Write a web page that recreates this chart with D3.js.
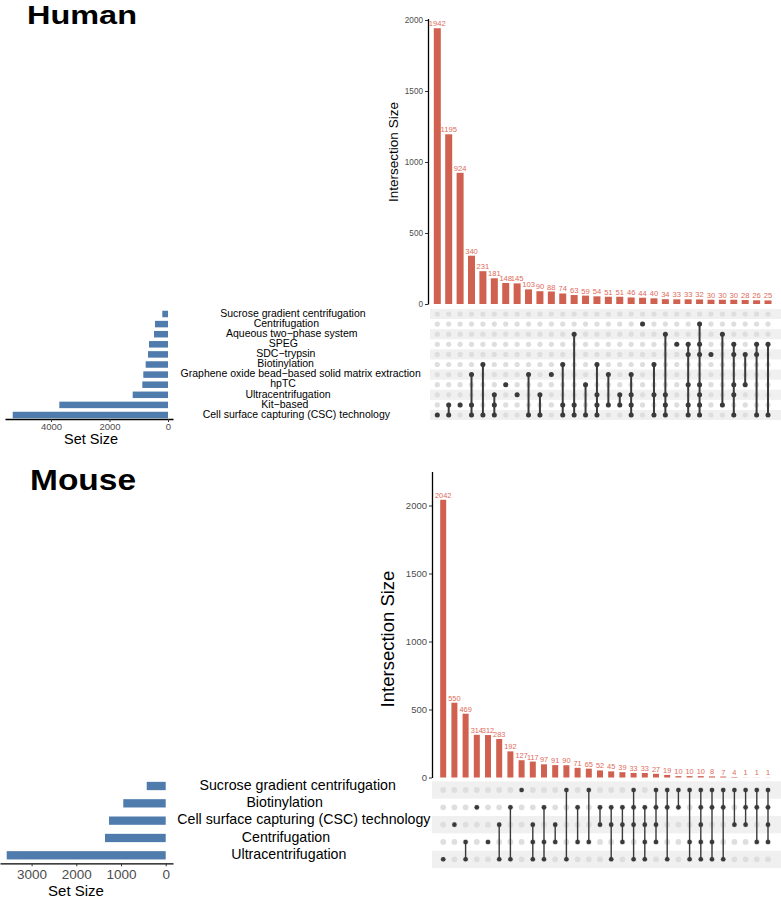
<!DOCTYPE html>
<html><head><meta charset="utf-8">
<script src="https://cdn.jsdelivr.net/npm/d3@7"></script>
<style>
body{margin:0;background:#fff}
svg{display:block;font-family:"Liberation Sans",Arial,Helvetica,sans-serif}
</style></head>
<body><svg id="chart" width="781" height="907"></svg>
<script>
// ---------------- DATA ----------------
const humanSets = ["Sucrose gradient centrifugation","Centrifugation","Aqueous two\u2212phase system","SPEG","SDC\u2212trypsin","Biotinylation","Graphene oxide bead\u2212based solid matrix extraction","hpTC","Ultracentrifugation","Kit\u2212based","Cell surface capturing (CSC) technology"];
const humanSetSizes = [195,444,479,650,684,763,844,878,1207,3716,5310];
const humanCounts = [1942,1195,924,340,231,181,148,145,103,90,88,74,63,59,54,51,51,46,44,40,34,33,33,32,30,30,30,28,26,25];
const humanCombos = [[10],[9,10],[9],[6,9,10],[5,10],[8,9,10],[7],[8],[6,10],[8,10],[6],[5,9,10],[2,9,10],[7,10],[5,8,9,10],[6,9],[8,9],[6,8,9,10],[1],[5,8,10],[2,8,9,10],[3],[3,4,7,9,10],[1,3,4,7,8,9,10],[4],[2,9],[3,4,7,8,10],[4,7],[3,4,10],[3,10]];
const humanIntTicks = [0,500,1000,1500,2000];
const humanSetTicks = [0,2000,4000];

const mouseSets = ["Sucrose gradient centrifugation","Biotinylation","Cell surface capturing (CSC) technology","Centrifugation","Ultracentrifugation"];
const mouseSetSizes = [425,949,1268,1358,3557];
const mouseCounts = [2042,550,469,314,312,283,192,127,117,97,91,90,71,65,52,45,39,33,33,27,19,10,10,10,8,7,4,1,1,1];
const mouseCombos = [[4],[2],[3,4],[1],[3],[2,4],[1,4],[0],[2,3,4],[1,3,4],[2,3],[0,4],[1,3],[0,3],[1,2],[1,2,4],[1,2,3],[0,1,2,4],[1,2,3,4],[0,1,2,3],[0,1,4],[0,1],[0,3,4],[0,1,2,3,4],[0,1,3,4],[0,1,4],[0,2],[0,1,2],[0,1,3],[0,1,2,3]];
const mouseIntTicks = [0,500,1000,1500,2000];
const mouseSetTicks = [0,1000,2000,3000];

// ---------------- STYLE / LAYOUT ----------------
const COLORS = {bar:"#d0604f", barLabel:"#e06a5a", setBar:"#4f7cac", dotOff:"#dedede", dotOn:"#3a3a3a", stripe:"#f0f0f0", tick:"#4d4d4d"};
const fmt = d3.format("d");
const svg = d3.select("#chart");

function drawUpset(cfg){
  const g = svg.append("g");
  const n = cfg.counts.length;
  const colX = d3.scalePoint().domain(d3.range(n)).range([cfg.colFirst, cfg.colLast]);
  const rowY = d3.scalePoint().domain(d3.range(cfg.sets.length)).range([cfg.rowFirst, cfg.rowLast]);
  const rowStep = (cfg.rowLast - cfg.rowFirst)/(cfg.sets.length-1);
  const y = d3.scaleLinear().domain([0, cfg.yMax]).range([cfg.y0, cfg.yTop]);

  // title
  g.append("text").attr("x", cfg.titleX).attr("y", cfg.titleY)
    .attr("font-size", cfg.titleSize).attr("font-weight","bold").attr("fill","#000")
    .attr("textLength",cfg.titleLen).attr("lengthAdjust","spacingAndGlyphs").text(cfg.title);

  // intersection bars
  g.append("g").selectAll("rect").data(cfg.counts).join("rect")
    .attr("x",(d,i)=>colX(i)-cfg.barW/2).attr("width",cfg.barW)
    .attr("y",d=>y(d)).attr("height",d=>y(0)-y(d)).attr("fill",COLORS.bar);
  g.append("g").selectAll("text").data(cfg.counts).join("text")
    .attr("x",(d,i)=>colX(i)).attr("y",d=>y(d)-cfg.labelGap)
    .attr("text-anchor","middle").attr("font-size",cfg.barLabelSize).attr("fill",COLORS.barLabel).text(d=>d);

  // y axis
  const ax = g.append("g").attr("transform",`translate(${cfg.axisX},0)`)
    .call(d3.axisLeft(y).tickValues(cfg.intTicks).tickFormat(fmt).tickSize(cfg.tickLen).tickSizeOuter(0).tickPadding(2));
  ax.select(".domain").attr("stroke","#000").attr("stroke-width",cfg.axisW);
  ax.selectAll(".tick line").attr("stroke","#333");
  ax.selectAll(".tick text").attr("font-size",cfg.tickSize).attr("fill",COLORS.tick).attr("font-family",null);
  g.append("text").attr("transform",`translate(${cfg.yTitleX},${cfg.yTitleY}) rotate(-90)`)
    .attr("text-anchor","middle").attr("dominant-baseline","middle")
    .attr("font-size",cfg.yTitleSize).attr("fill","#000").text("Intersection Size");

  // matrix stripes
  g.append("g").selectAll("rect").data(d3.range(0,cfg.sets.length,2)).join("rect")
    .attr("x",cfg.stripeX0).attr("width",cfg.stripeX1-cfg.stripeX0)
    .attr("y",r=>rowY(r)-rowStep/2).attr("height",rowStep).attr("fill",COLORS.stripe);
  // background dots
  const grid = [];
  for(let c=0;c<n;c++) for(let r=0;r<cfg.sets.length;r++) grid.push([c,r]);
  g.append("g").selectAll("circle").data(grid).join("circle")
    .attr("cx",d=>colX(d[0])).attr("cy",d=>rowY(d[1])).attr("r",cfg.dotR).attr("fill",COLORS.dotOff);
  // connecting lines
  g.append("g").selectAll("line").data(cfg.combos.map((c,i)=>({c,i})).filter(d=>d.c.length>1)).join("line")
    .attr("x1",d=>colX(d.i)).attr("x2",d=>colX(d.i))
    .attr("y1",d=>rowY(d3.min(d.c))).attr("y2",d=>rowY(d3.max(d.c)))
    .attr("stroke",COLORS.dotOn).attr("stroke-width",cfg.lineW);
  const on = [];
  cfg.combos.forEach((c,i)=>c.forEach(r=>on.push([i,r])));
  g.append("g").selectAll("circle").data(on).join("circle")
    .attr("cx",d=>colX(d[0])).attr("cy",d=>rowY(d[1])).attr("r",cfg.onR).attr("fill",COLORS.dotOn);

  // set-size bars
  const sx = d3.scaleLinear().domain([cfg.setMin, cfg.setMax]).range([cfg.setRight, cfg.setLeft]);
  g.append("g").selectAll("rect").data(cfg.setSizes).join("rect")
    .attr("x",d=>sx(d)).attr("width",d=>sx(0)-sx(d))
    .attr("y",(d,i)=>rowY(i)+cfg.setDy-cfg.setBarH/2).attr("height",cfg.setBarH).attr("fill",COLORS.setBar);
  const sax = g.append("g").attr("transform",`translate(0,${cfg.setAxisY})`)
    .call(d3.axisBottom(sx).tickValues(cfg.setTicks).tickFormat(fmt).tickSize(cfg.tickLen).tickSizeOuter(0).tickPadding(cfg.setTickPad));
  sax.select(".domain").attr("stroke","#000").attr("stroke-width",cfg.axisW);
  sax.selectAll(".tick line").attr("stroke","#333");
  sax.selectAll(".tick text").attr("font-size",cfg.setTickSize).attr("fill",COLORS.tick).attr("font-family",null);
  g.append("text").attr("x",cfg.setTitleX).attr("y",cfg.setTitleY).attr("text-anchor","middle")
    .attr("dominant-baseline","middle").attr("font-size",cfg.setTitleSize).attr("fill","#000").text("Set Size");

  // set names
  const lbl = g.append("g").selectAll("text").data(cfg.sets).join("text")
    .attr("y",(d,i)=>rowY(i)+cfg.setDy).attr("dominant-baseline","middle").attr("text-anchor","middle")
    .attr("font-size",cfg.nameSize).attr("fill","#000").text(d=>d);
  lbl.attr("x",function(){ return cfg.nameC + cfg.nameS*this.getComputedTextLength(); });
}

drawUpset({
  title:"Human", titleX:27, titleY:24, titleSize:26, titleLen:110,
  sets:humanSets, setSizes:humanSetSizes, counts:humanCounts, combos:humanCombos,
  intTicks:humanIntTicks, setTicks:humanSetTicks,
  colFirst:437.3, colLast:768, barW:7, yMax:2010, y0:304, yTop:18.6,
  labelGap:2, barLabelSize:7.6, axisX:428, axisW:1.3, tickLen:3, tickSize:8.2,
  yTitleX:394, yTitleY:152, yTitleSize:13.5,
  rowFirst:314, rowLast:415, stripeX0:430, stripeX1:781, dotR:2.6, onR:2.5, lineW:2,
  setMin:-171, setMax:5573, setRight:173, setLeft:5, setBarH:6.5, setDy:0,
  setAxisY:419, setTickPad:1, setTickSize:9.5, setTitleX:91, setTitleY:440, setTitleSize:14.5,
  nameC:281, nameS:0.082, nameSize:10.5
});

drawUpset({
  title:"Mouse", titleX:30, titleY:490, titleSize:29, titleLen:106,
  sets:mouseSets, setSizes:mouseSetSizes, counts:mouseCounts, combos:mouseCombos,
  intTicks:mouseIntTicks, setTicks:mouseSetTicks,
  colFirst:443.2, colLast:768, barW:6, yMax:2250, y0:777.5, yTop:471.5,
  labelGap:2, barLabelSize:7.4, axisX:432, axisW:1.3, tickLen:3, tickSize:9.5,
  yTitleX:389, yTitleY:639, yTitleSize:18.5,
  rowFirst:790, rowLast:859.3, stripeX0:432, stripeX1:781, dotR:2.9, onR:2.3, lineW:1.4,
  setMin:-163, setMax:3707, setRight:173, setLeft:0, setBarH:8.3, setDy:-4,
  setAxisY:863.3, setTickPad:3, setTickSize:13.5, setTitleX:76, setTitleY:892, setTitleSize:15,
  nameC:276.3, nameS:0.109, nameSize:14.2
});
</script>
</body></html>
